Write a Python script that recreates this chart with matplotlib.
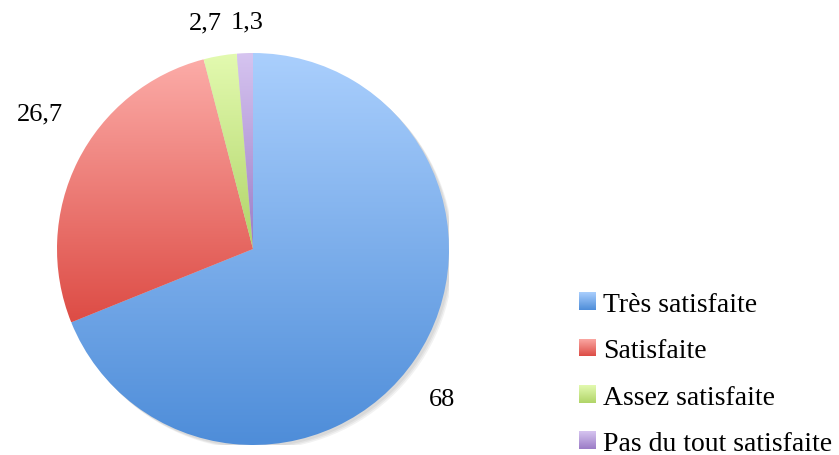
import numpy as np
import matplotlib.pyplot as plt
from matplotlib.patches import Patch, Circle
from matplotlib.colors import LinearSegmentedColormap

categories = ["Très satisfaite", "Satisfaite", "Assez satisfaite", "Pas du tout satisfaite"]
values = [68, 26.7, 2.7, 1.3]
value_labels = ["68", "26,7", "2,7", "1,3"]

# couleurs haut / bas du dégradé de chaque part
col_top = ["#aacffd", "#fcaca8", "#e3fab0", "#d6c4f0"]
col_bot = ["#4e8dd9", "#dd4c45", "#b0d468", "#9b7cc6"]

# position des étiquettes (rayon = 1)
label_pos = [(0.964, -0.765), (-1.087, 0.694), (-0.245, 1.158), (-0.031, 1.163)]

plt.rcParams['font.family'] = ['Liberation Serif', 'DejaVu Serif']

fig = plt.figure(figsize=(8.39, 4.56), dpi=100)
ax = fig.add_axes([57 / 839, 10 / 456, 392 / 839, 392 / 456])

# ombre légère
for i in range(3):
    ax.add_patch(Circle((0.012 + 0.006 * i, -0.012 - 0.006 * i), 1.0, color="black",
                        alpha=0.05, lw=0, zorder=0))

wedges, _ = ax.pie(values, startangle=90, counterclock=False, radius=1,
                   wedgeprops=dict(linewidth=0))

grad = np.linspace(0, 1, 256).reshape(-1, 1)
for w, ct, cb in zip(wedges, col_top, col_bot):
    w.set_facecolor("none")
    bb = w.get_path().get_extents(w.get_patch_transform())
    cmap = LinearSegmentedColormap.from_list("g", [cb, ct])
    im = ax.imshow(grad, cmap=cmap, extent=[bb.x0, bb.x1, bb.y0, bb.y1],
                   aspect="auto", origin="lower", zorder=1, interpolation="bilinear")
    im.set_clip_path(w)

for (x, y), t in zip(label_pos, value_labels):
    ax.text(x, y, t, fontsize=19, ha="center", va="center")

ax.set_xlim(-1, 1)
ax.set_ylim(-1, 1)
ax.set_aspect("equal")
ax.axis("off")

# légende avec petits carrés en dégradé
handles = [Patch(facecolor="none", edgecolor="none") for c in col_top]
leg = fig.legend(handles, categories, loc="center left", bbox_to_anchor=(554 / 839, 1 - 375 / 456),
                 frameon=False, fontsize=20, handlelength=0.6, handleheight=0.6,
                 handletextpad=0.27, labelspacing=0.77)
fig.canvas.draw()
for h, ct, cb in zip(leg.legend_handles, col_top, col_bot):
    bb = h.get_window_extent()
    fbb = bb.transformed(fig.transFigure.inverted())
    gax = fig.add_axes([fbb.x0, fbb.y0, fbb.width, fbb.height])
    gax.imshow(grad, cmap=LinearSegmentedColormap.from_list("g", [cb, ct]),
               aspect="auto", origin="lower", interpolation="bilinear")
    gax.axis("off")

fig.savefig("out.png", dpi=100)
